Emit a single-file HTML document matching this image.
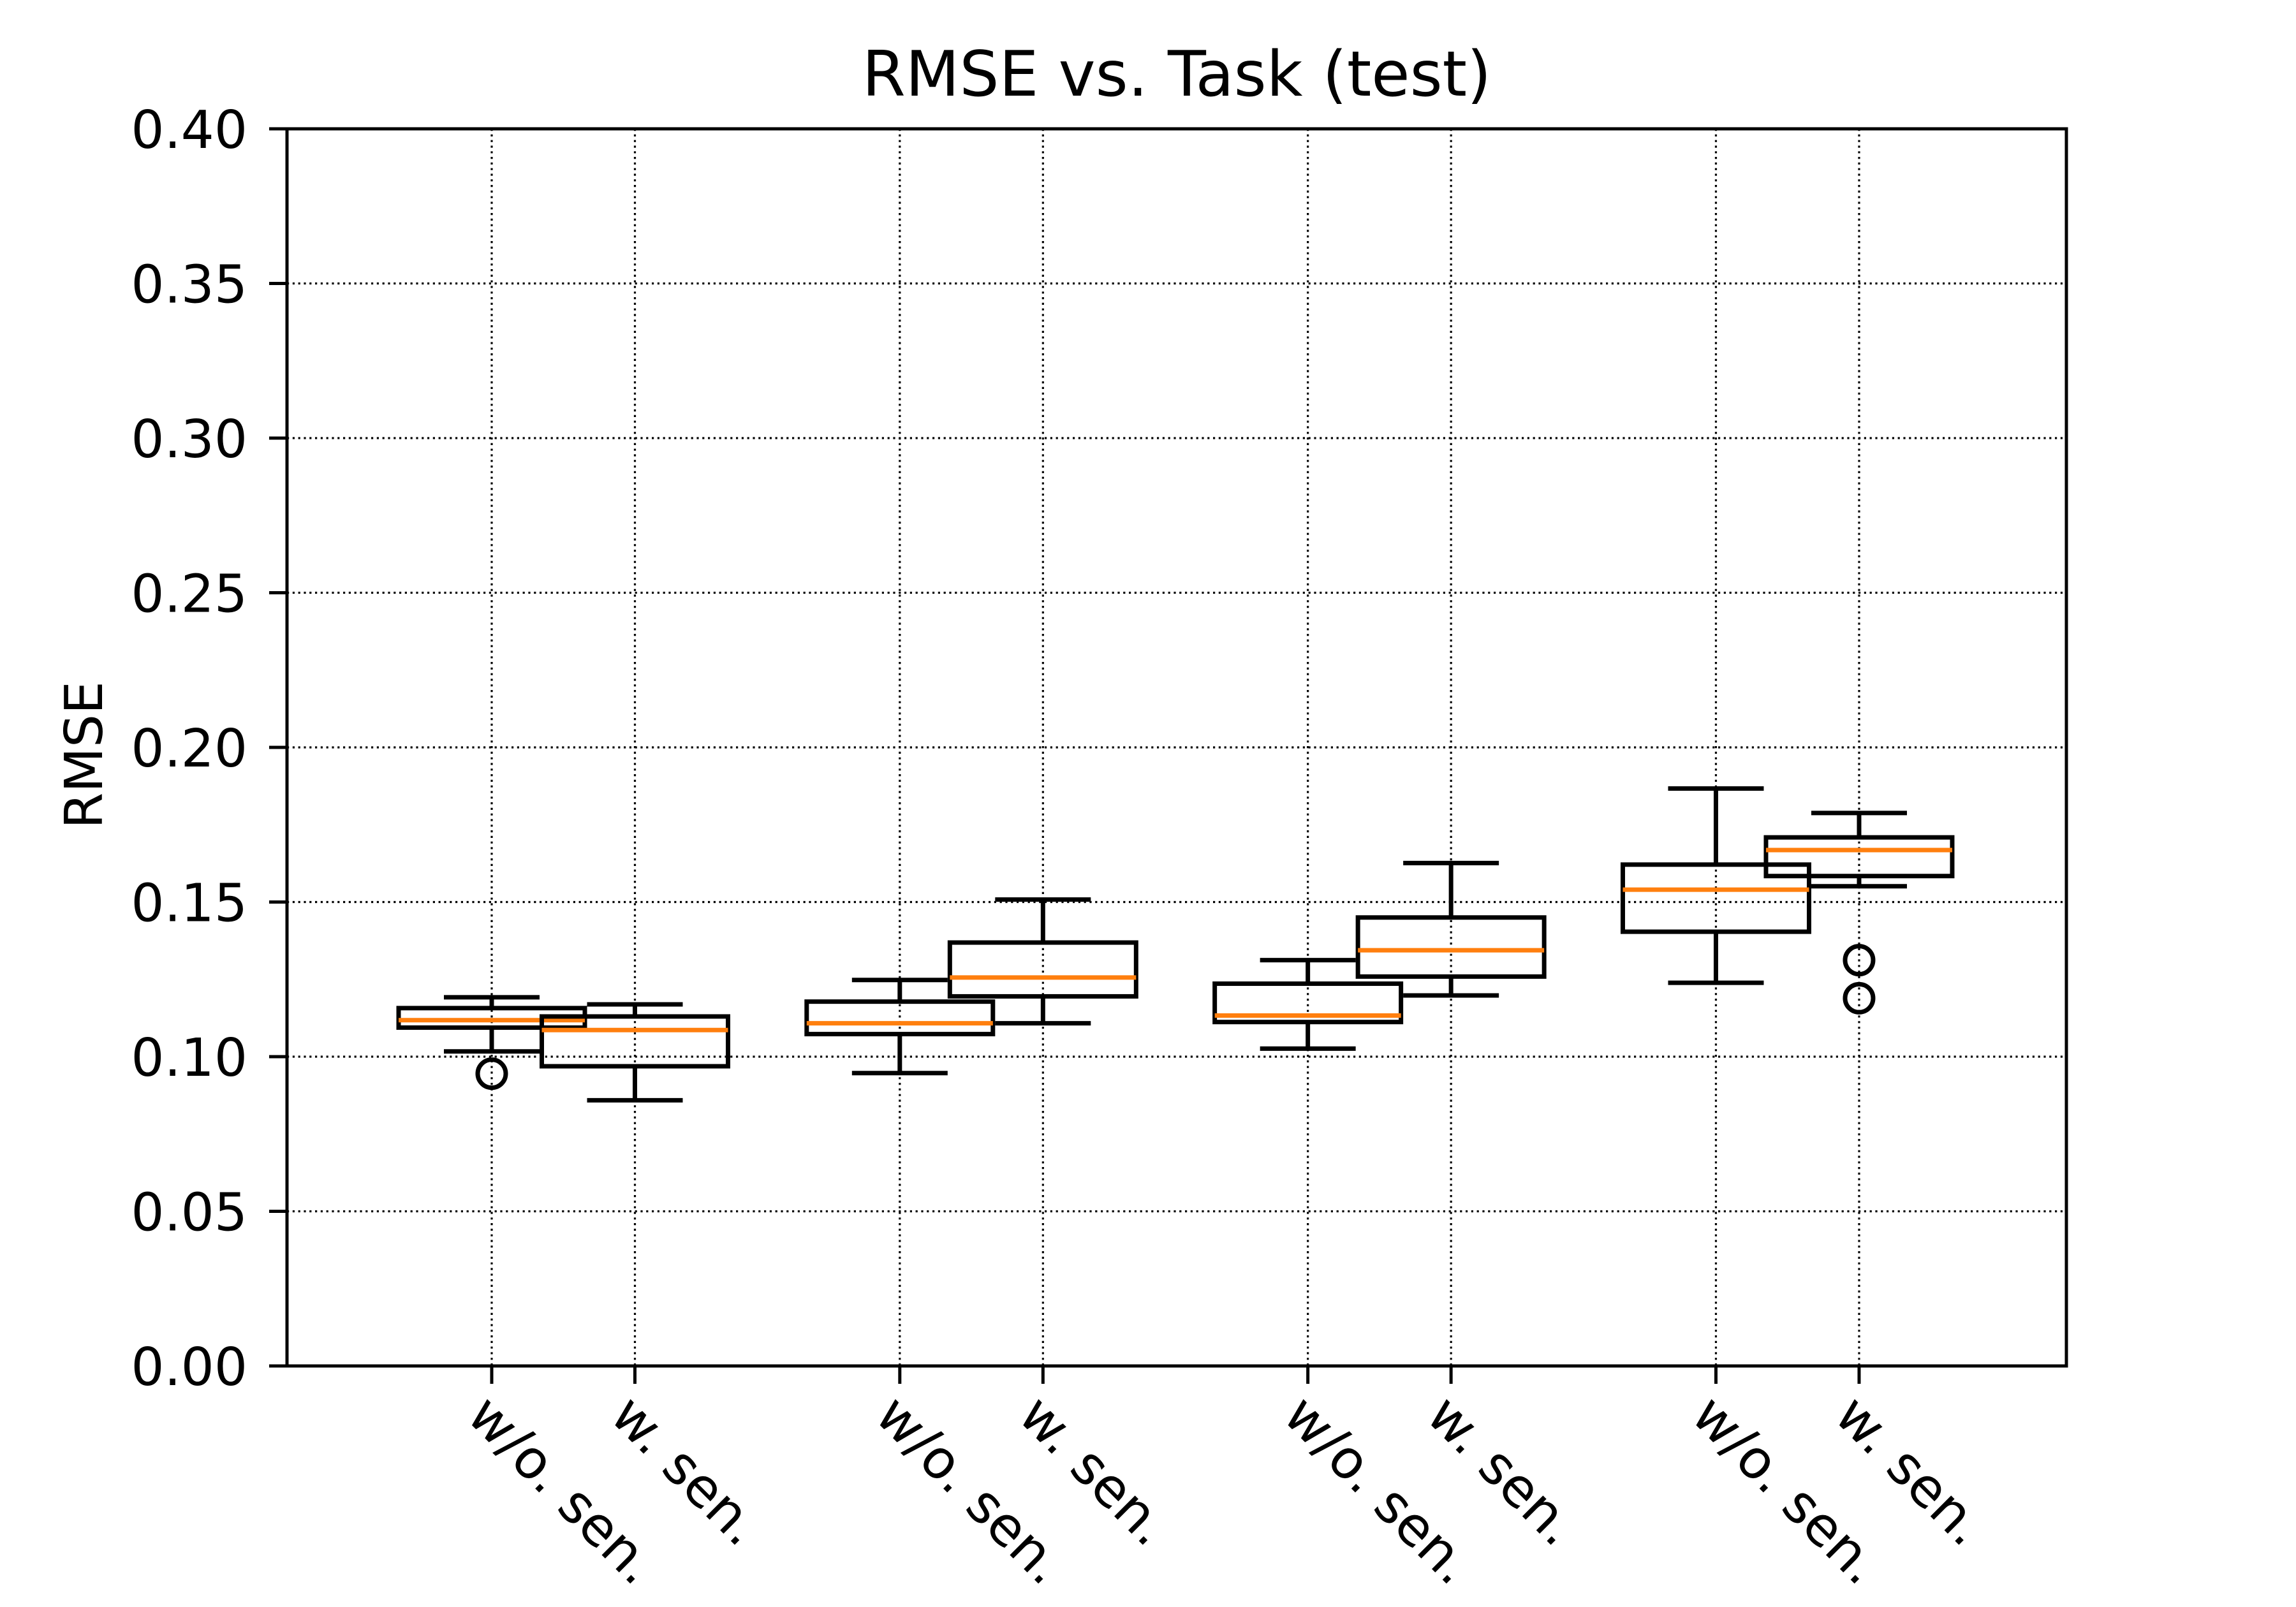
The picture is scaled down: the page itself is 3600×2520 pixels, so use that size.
<!DOCTYPE html>
<html><head><meta charset="utf-8"><style>
html,body{margin:0;padding:0;background:#fff;}
svg{display:block;font-family:"DejaVu Sans","Liberation Sans",sans-serif;}
</style></head><body>
<svg id="chart" width="3600" height="2520" viewBox="0 0 3600 2520" xmlns="http://www.w3.org/2000/svg">
<rect width="3600" height="2520" fill="#fff"/>
<text x="1845" y="150" font-size="98" text-anchor="middle">RMSE vs. Task (test)</text>
<text transform="translate(160,1184) rotate(-90)" font-size="82" text-anchor="middle">RMSE</text>
<g id="grid"></g><g id="boxes"></g><g id="axes"></g>
</svg>
<script>
const categories = ["w/o. sen.","w. sen.","w/o. sen.","w. sen.","w/o. sen.","w. sen.","w/o. sen.","w. sen."];
const positions = [1,2,3.85,4.85,6.7,7.7,9.55,10.55];
const whiskerLow = [0.1017,0.0859,0.0947,0.1108,0.1026,0.1198,0.1239,0.1551];
const q1 = [0.1094,0.0969,0.1073,0.1195,0.1112,0.1259,0.1404,0.1584];
const medians = [0.1118,0.1086,0.1108,0.1256,0.1133,0.1344,0.1540,0.1668];
const q3 = [0.1157,0.1130,0.1178,0.1369,0.1236,0.1450,0.1621,0.1709];
const whiskerHigh = [0.1192,0.1169,0.1248,0.1508,0.1312,0.1626,0.1867,0.1788];
const outliers = [[0.0945],[],[],[],[],[],[],[0.1312,0.1189]];
const yTicks = [0,0.05,0.10,0.15,0.20,0.25,0.30,0.35,0.40];
const yTickLabels = ["0.00","0.05","0.10","0.15","0.20","0.25","0.30","0.35","0.40"];

const L=450,R=3240,T=202,B=2142;
const yMin=0,yMax=0.4;
function ys(v){return B-(v-yMin)/(yMax-yMin)*(B-T);}
function xs(p){return 771+(p-1)*224.5;}
const NS="http://www.w3.org/2000/svg";
function mk(tag,parent,attrs){const e=document.createElementNS(NS,tag);for(const k in attrs)e.setAttribute(k,attrs[k]);parent.appendChild(e);return e;}
const grid=document.getElementById('grid'),boxes=document.getElementById('boxes'),axes=document.getElementById('axes');
const GW=3.2, GD='3.2 5.6';
yTicks.forEach((t,i)=>{
  const y=ys(t);
  if(i>0&&i<yTicks.length-1){
    const g=mk('line',grid,{x1:L,x2:R,y1:y,y2:y,stroke:'#000','stroke-width':GW,'stroke-dasharray':GD});
    
    
  }
  const tk=mk('line',axes,{x1:L-28,x2:L,y1:y,y2:y,stroke:'#000','stroke-width':5});
  
  
  const tx=mk('text',axes,{x:L-62,y:y+30,'font-size':82,'text-anchor':'end'});
  tx.textContent=yTickLabels[i];
  
  
});
positions.forEach((p,i)=>{
  const x=xs(p);
  const g=mk('line',grid,{x1:x,x2:x,y1:T,y2:B,stroke:'#000','stroke-width':GW,'stroke-dasharray':GD});
  
  
  const tk=mk('line',axes,{x1:x,x2:x,y1:B,y2:B+28,stroke:'#000','stroke-width':5});
  
  
  const tx=mk('text',axes,{transform:`translate(${x-42},${B+82}) rotate(45)`,'font-size':84});
  tx.textContent=categories[i];
  
  
});
const HW=146,CW=75,SW=7;
positions.forEach((p,i)=>{
  const x=xs(p);
  const g=mk('g',boxes,{});
  
  
  mk('line',g,{x1:x,x2:x,y1:ys(q3[i]),y2:ys(whiskerHigh[i]),stroke:'#000','stroke-width':SW});
  mk('line',g,{x1:x,x2:x,y1:ys(q1[i]),y2:ys(whiskerLow[i]),stroke:'#000','stroke-width':SW});
  mk('line',g,{x1:x-CW,x2:x+CW,y1:ys(whiskerHigh[i]),y2:ys(whiskerHigh[i]),stroke:'#000','stroke-width':SW});
  mk('line',g,{x1:x-CW,x2:x+CW,y1:ys(whiskerLow[i]),y2:ys(whiskerLow[i]),stroke:'#000','stroke-width':SW});
  mk('rect',g,{x:x-HW,y:ys(q3[i]),width:2*HW,height:ys(q1[i])-ys(q3[i]),fill:'none',stroke:'#000','stroke-width':SW});
  const m=mk('line',g,{x1:x-HW,x2:x+HW,y1:ys(medians[i]),y2:ys(medians[i]),stroke:'#ff7f0e','stroke-width':SW});
  
  
  outliers[i].forEach(v=>{
    const c=mk('circle',g,{cx:x,cy:ys(v),r:22,fill:'none',stroke:'#000','stroke-width':SW});
    
    
  });
});
const fr=mk('rect',axes,{x:L,y:T,width:R-L,height:B-T,fill:'none',stroke:'#000','stroke-width':5});


</script>
</body></html>
